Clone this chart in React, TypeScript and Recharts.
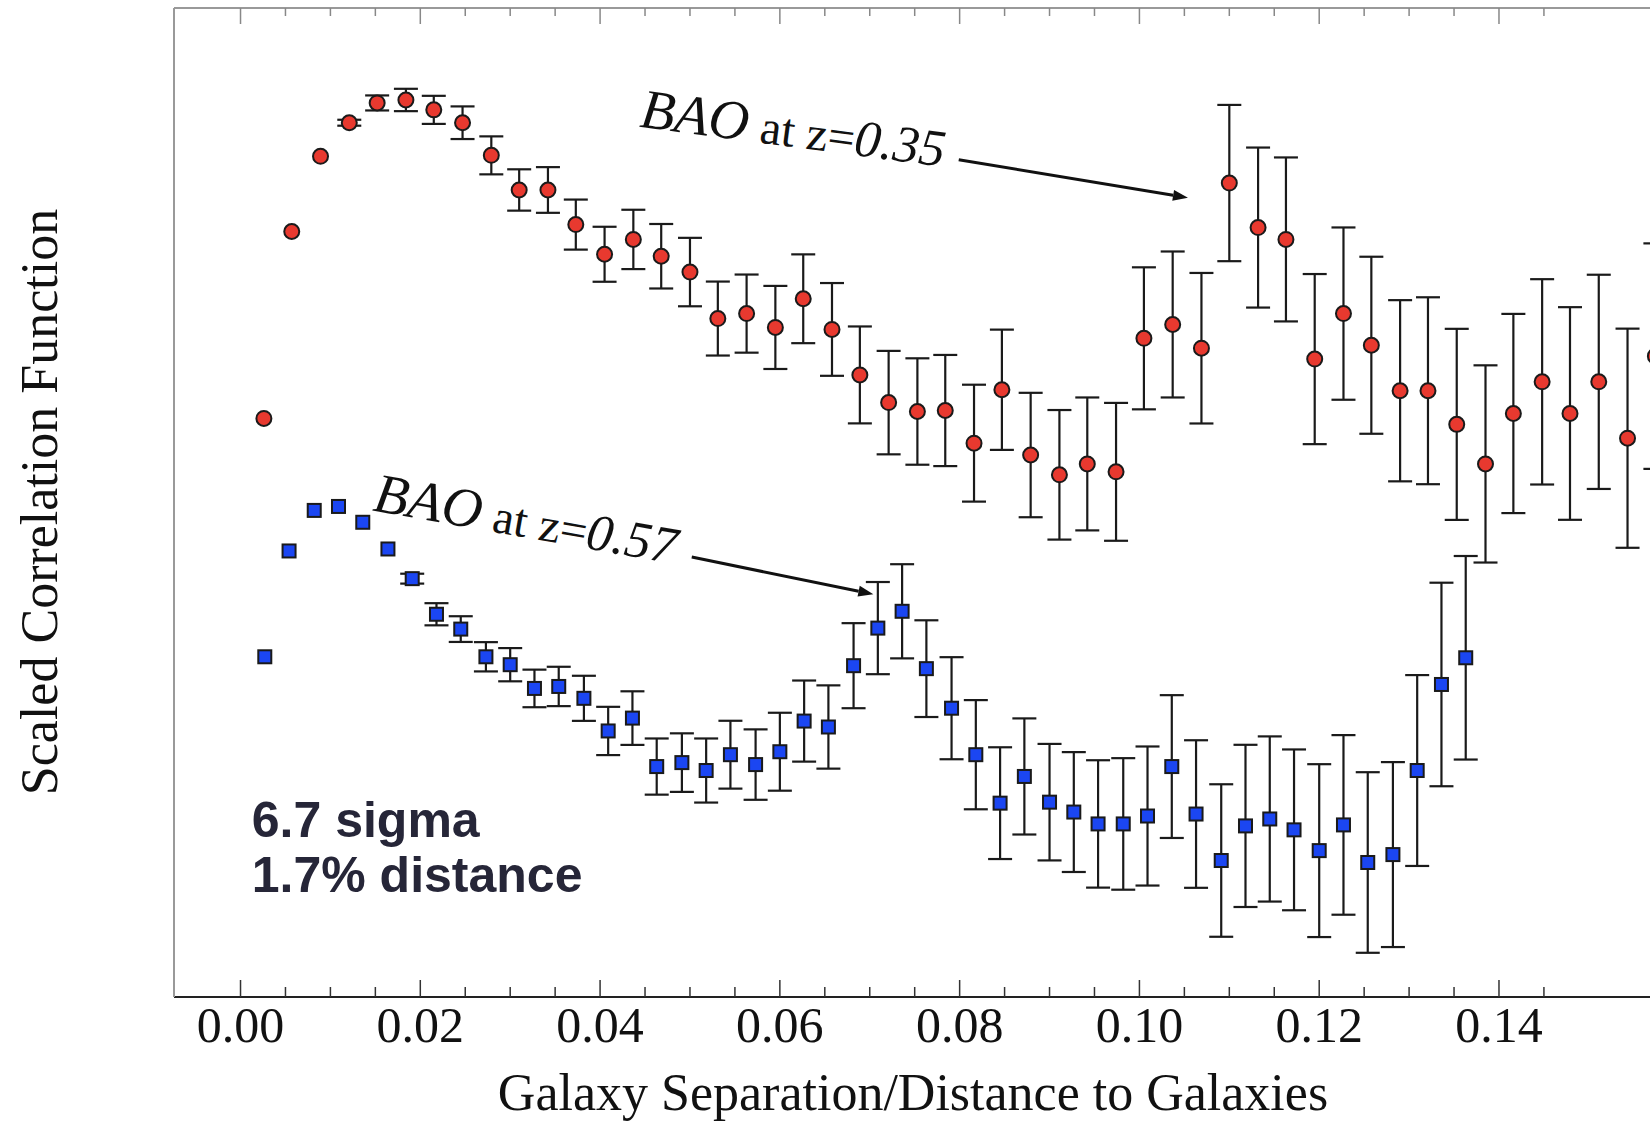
import React from "react"
import {
  ScatterChart,
  Scatter,
  XAxis,
  YAxis,
  ErrorBar,
  ReferenceLine,
  ReferenceDot,
  Customized,
} from "recharts"

// z = 0.35 sample (red circles)
const lowZSeparation = [
  0.0026, 0.0057, 0.0089, 0.0121, 0.0152, 0.0184, 0.0215, 0.0247, 0.0279, 0.031,
  0.0342, 0.0373, 0.0405, 0.0437, 0.0468, 0.05, 0.0531, 0.0563, 0.0595, 0.0626,
  0.0658, 0.0689, 0.0721, 0.0753, 0.0784, 0.0816, 0.0847, 0.0879, 0.0911, 0.0942,
  0.0974, 0.1005, 0.1037, 0.1069, 0.11, 0.1132, 0.1163, 0.1195, 0.1227, 0.1258,
  0.129, 0.1321, 0.1353, 0.1385, 0.1416, 0.1448, 0.1479, 0.1511, 0.1543, 0.1574,
]
const lowZCorrelation = [
  58.5, 77.4, 85.0, 88.4, 90.4, 90.7, 89.7, 88.4, 85.1, 81.6,
  81.6, 78.1, 75.1, 76.6, 74.9, 73.3, 68.6, 69.1, 67.7, 70.6,
  67.5, 62.9, 60.1, 59.2, 59.3, 56.0, 61.4, 54.8, 52.8, 53.9,
  53.1, 66.6, 68.0, 65.6, 82.3, 77.8, 76.6, 64.5, 69.1, 65.9,
  61.3, 61.3, 57.9, 53.9, 59.0, 62.2, 59.0, 62.2, 56.5, 64.8,
]
const lowZError = [
  0, 0, 0, 0.3, 0.76, 1.13, 1.42, 1.65, 1.92, 2.09,
  2.31, 2.53, 2.78, 3.0, 3.26, 3.46, 3.74, 3.95, 4.2, 4.49,
  4.69, 4.9, 5.23, 5.38, 5.62, 5.91, 6.08, 6.29, 6.55, 6.72,
  6.97, 7.18, 7.38, 7.61, 7.9, 8.09, 8.29, 8.6, 8.71, 8.95,
  9.16, 9.45, 9.66, 9.97, 10.07, 10.38, 10.75, 10.83, 11.08, 11.4,
]

// z = 0.57 sample (blue squares)
const highZSeparation = [
  0.0027, 0.0054, 0.0082, 0.0109, 0.0136, 0.0164, 0.0191, 0.0218, 0.0245, 0.0273,
  0.03, 0.0327, 0.0354, 0.0382, 0.0409, 0.0436, 0.0463, 0.0491, 0.0518, 0.0545,
  0.0573, 0.06, 0.0627, 0.0654, 0.0682, 0.0709, 0.0736, 0.0763, 0.0791, 0.0818,
  0.0845, 0.0872, 0.09, 0.0927, 0.0954, 0.0982, 0.1009, 0.1036, 0.1063, 0.1091,
  0.1118, 0.1145, 0.1172, 0.12, 0.1227, 0.1254, 0.1282, 0.1309, 0.1336, 0.1363,
]
const highZCorrelation = [
  34.4, 45.1, 49.2, 49.6, 48.0, 45.3, 42.3, 38.7, 37.2, 34.4,
  33.6, 31.2, 31.4, 30.2, 26.9, 28.2, 23.3, 23.7, 22.9, 24.5,
  23.5, 24.8, 27.9, 27.3, 33.5, 37.3, 39.0, 33.2, 29.2, 24.5,
  19.6, 22.3, 19.7, 18.7, 17.5, 17.5, 18.3, 23.3, 18.5, 13.8,
  17.3, 18.0, 16.9, 14.8, 17.4, 13.6, 14.4, 22.9, 31.6, 34.3,
]
const highZError = [
  0, 0, 0, 0, 0, 0, 0.5, 1.12, 1.3, 1.48,
  1.68, 1.9, 1.99, 2.28, 2.44, 2.71, 2.84, 2.96, 3.24, 3.43,
  3.56, 3.94, 4.1, 4.21, 4.3, 4.66, 4.76, 4.89, 5.16, 5.52,
  5.65, 5.87, 5.89, 6.06, 6.44, 6.65, 7.03, 7.22, 7.46, 7.71,
  8.2, 8.35, 8.13, 8.74, 9.08, 9.13, 9.35, 9.65, 10.29, 10.29,
]

const xTicks = [
  0, 0.005, 0.01, 0.015, 0.02, 0.025, 0.03, 0.035, 0.04, 0.045, 0.05, 0.055, 0.06, 0.065, 0.07,
  0.075, 0.08, 0.085, 0.09, 0.095, 0.1, 0.105, 0.11, 0.115, 0.12, 0.125, 0.13, 0.135, 0.14, 0.145,
]
const majorTicks = [0, 0.02, 0.04, 0.06, 0.08, 0.1, 0.12, 0.14]
const majorLabels = ["0.00", "0.02", "0.04", "0.06", "0.08", "0.10", "0.12", "0.14"]

const lowZData = lowZSeparation.map((x, i) => ({ x, y: lowZCorrelation[i], err: lowZError[i] }))
const highZData = highZSeparation.map((x, i) => ({ x, y: highZCorrelation[i], err: highZError[i] }))

const SERIF = "'Liberation Serif', 'DejaVu Serif', serif"
const SANS = "'Liberation Sans', Arial, sans-serif"

const majorIndex = (v: number) => majorTicks.findIndex((m) => Math.abs(m - v) < 1e-6)

function BottomTick(props: any) {
  const { x, y, payload } = props
  const idx = majorIndex(payload.value)
  return (
    <g>
      <line x1={x} x2={x} y1={y} y2={y - (idx >= 0 ? 17 : 10)} stroke="#333" strokeWidth={1.5} />
      {idx >= 0 && (
        <text x={x} y={y + 45} textAnchor="middle" fontFamily={SERIF} fontSize={50} fill="#111">
          {majorLabels[idx]}
        </text>
      )}
    </g>
  )
}

function TopTick(props: any) {
  const { x, y, payload } = props
  const major = majorIndex(payload.value) >= 0
  return <line x1={x} x2={x} y1={y} y2={y + (major ? 16 : 8)} stroke="#888" strokeWidth={1.5} />
}

const RedDot = (p: any) => (
  <circle cx={p.cx} cy={p.cy} r={7.5} fill="#e8392f" stroke="#1a1a1a" strokeWidth={2} />
)
const BlueSquare = (p: any) => (
  <rect x={p.cx - 6.5} y={p.cy - 6.5} width={13} height={13} fill="#1b46f2" stroke="#1a1a1a" strokeWidth={2} />
)

function Arrow(p: any) {
  const { x1, y1, x2, y2 } = p
  const a = Math.atan2(y2 - y1, x2 - x1)
  const len = 15
  const w = 5.5
  const bx = x2 - len * Math.cos(a)
  const by = y2 - len * Math.sin(a)
  const pts = [
    `${x2},${y2}`,
    `${bx + w * Math.sin(a)},${by - w * Math.cos(a)}`,
    `${bx - w * Math.sin(a)},${by + w * Math.cos(a)}`,
  ].join(" ")
  return (
    <g>
      <line x1={x1} y1={y1} x2={bx} y2={by} stroke="#111" strokeWidth={3} />
      <polygon points={pts} fill="#111" />
    </g>
  )
}

function BaoLabel(redshift: string, angle: number) {
  return (p: any) => (
    <text
      x={p.cx}
      y={p.cy}
      transform={`rotate(${angle} ${p.cx} ${p.cy})`}
      fontFamily={SERIF}
      fill="#111"
    >
      <tspan fontStyle="italic" fontSize={56}>BAO</tspan>
      <tspan fontSize={48}> at z=</tspan>
      <tspan fontStyle="italic" fontSize={52}>{redshift}</tspan>
    </text>
  )
}

const SigmaLabel = (p: any) => (
  <text x={p.cx} y={p.cy} fontFamily={SANS} fontWeight="bold" fontSize={50} fill="#262638">
    <tspan x={p.cx}>6.7 sigma</tspan>
    <tspan x={p.cx} dy={55}>1.7% distance</tspan>
  </text>
)

const AxisTitles = () => (
  <g fontFamily={SERIF} fill="#111" fontSize={52}>
    <text x={913} y={1110} textAnchor="middle">Galaxy Separation/Distance to Galaxies</text>
    <text x={57} y={502} textAnchor="middle" transform="rotate(-90 57 502)">Scaled Correlation Function</text>
  </g>
)

export default function App() {
  return (
    <div style={{ position: "absolute", left: 0, top: 0, width: 1650, height: 1123, background: "#fff" }}>
      <ScatterChart width={1650} height={1123} margin={{ top: 7, right: 0, bottom: 0, left: 173 }}>
        <XAxis
          type="number"
          dataKey="x"
          domain={[-0.0074, 0.1568]}
          allowDataOverflow
          ticks={xTicks}
          interval={0}
          tick={BottomTick}
          tickLine={false}
          tickSize={0}
          tickMargin={0}
          height={126}
          axisLine={{ stroke: "#222", strokeWidth: 2 }}
        />
        <XAxis
          xAxisId="top"
          orientation="top"
          type="number"
          dataKey="x"
          domain={[-0.0074, 0.1568]}
          allowDataOverflow
          ticks={xTicks}
          interval={0}
          tick={TopTick}
          tickLine={false}
          tickSize={0}
          tickMargin={0}
          height={1}
          axisLine={{ stroke: "#999", strokeWidth: 2 }}
        />
        <YAxis
          type="number"
          dataKey="y"
          domain={[0, 100]}
          allowDataOverflow
          width={1}
          tick={false}
          tickLine={false}
          axisLine={{ stroke: "#999", strokeWidth: 2 }}
        />
        <Scatter data={lowZData} shape={RedDot} isAnimationActive={false}>
          <ErrorBar dataKey="err" direction="y" width={12} stroke="#1a1a1a" strokeWidth={2.2} isAnimationActive={false} />
        </Scatter>
        <Scatter data={highZData} shape={BlueSquare} isAnimationActive={false}>
          <ErrorBar dataKey="err" direction="y" width={12} stroke="#1a1a1a" strokeWidth={2.2} isAnimationActive={false} />
        </Scatter>
        <ReferenceLine
          segment={[{ x: 0.0799, y: 84.66 }, { x: 0.1054, y: 80.81 }]}
          shape={Arrow}
          ifOverflow="visible"
        />
        <ReferenceLine
          segment={[{ x: 0.0502, y: 44.48 }, { x: 0.0704, y: 40.73 }]}
          shape={Arrow}
          ifOverflow="visible"
        />
        <ReferenceDot x={0.0443} y={88.0} r={0} shape={BaoLabel("0.35", 7.5)} ifOverflow="visible" />
        <ReferenceDot x={0.0146} y={49.2} r={0} shape={BaoLabel("0.57", 10)} ifOverflow="visible" />
        <ReferenceDot x={0.00125} y={16.2} r={0} shape={SigmaLabel} ifOverflow="visible" />
        <Customized component={AxisTitles} />
      </ScatterChart>
    </div>
  )
}
